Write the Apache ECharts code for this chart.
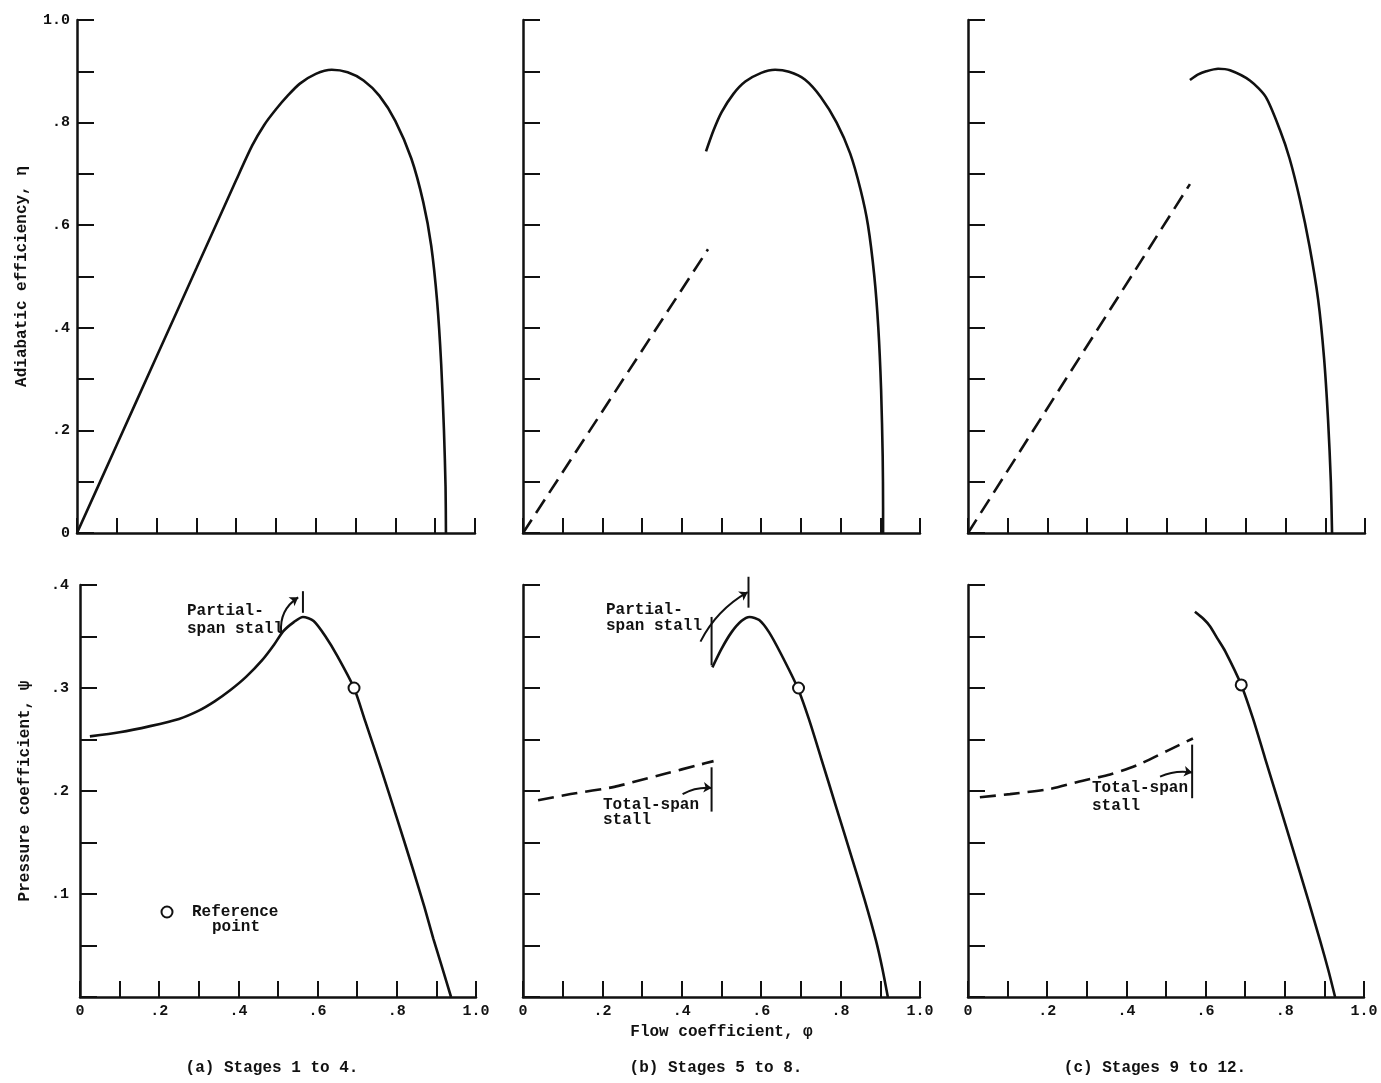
<!DOCTYPE html>
<html>
<head>
<meta charset="utf-8">
<script src="https://cdn.jsdelivr.net/npm/echarts@6/dist/echarts.min.js"></script>
<style>
  html, body { margin: 0; padding: 0; background: #ffffff; }
  #chart { width: 1381px; height: 1083px; }
</style>
</head>
<body>
<div id="chart"></div>
<script>
// ---- Adiabatic efficiency (eta) against flow coefficient (phi) ----
const etaStages1to4 = [[0,0],[0.1,0.172],[0.2,0.344],[0.3,0.516],[0.4,0.688],[0.44,0.755],[0.47,0.795],
  [0.5,0.826],[0.53,0.853],[0.56,0.876],[0.6,0.895],[0.64,0.903],[0.68,0.898],[0.72,0.882],[0.76,0.852],
  [0.8,0.803],[0.84,0.73],[0.87,0.645],[0.89,0.56],[0.905,0.45],[0.915,0.33],[0.922,0.2],[0.926,0.09],[0.927,0]];
const etaStages5to8Low = [[0,0],[0.466,0.553]];
const etaStages5to8 = [[0.461,0.744],[0.48,0.785],[0.5,0.82],[0.53,0.856],[0.56,0.88],[0.6,0.897],[0.635,0.903],
  [0.67,0.899],[0.71,0.884],[0.75,0.85],[0.79,0.8],[0.824,0.74],[0.85,0.67],[0.869,0.6],[0.885,0.5],
  [0.895,0.4],[0.902,0.28],[0.906,0.15],[0.907,0.05],[0.907,0]];
const etaStages9to12Low = [[0,0],[0.559,0.68]];
const etaStages9to12 = [[0.559,0.883],[0.58,0.894],[0.6,0.9],[0.63,0.905],[0.66,0.902],[0.71,0.882],[0.75,0.85],
  [0.786,0.785],[0.81,0.73],[0.836,0.65],[0.86,0.56],[0.882,0.455],[0.897,0.34],[0.907,0.22],[0.914,0.1],[0.917,0]];

// ---- Pressure coefficient (psi) against flow coefficient (phi) ----
const psiStages1to4 = [[0.025,0.253],[0.1,0.257],[0.177,0.263],[0.25,0.27],[0.3,0.278],[0.34,0.287],[0.38,0.298],
  [0.42,0.311],[0.46,0.327],[0.49,0.342],[0.513,0.355],[0.54,0.364],[0.563,0.369],[0.59,0.365],[0.62,0.35],
  [0.65,0.331],[0.692,0.3],[0.72,0.268],[0.76,0.222],[0.8,0.174],[0.84,0.125],[0.87,0.087],[0.892,0.057],
  [0.915,0.028],[0.937,0]];
const psiStages5to8Low = [[0.038,0.191],[0.12,0.197],[0.23,0.204],[0.29,0.21],[0.36,0.217],[0.44,0.225],[0.48,0.229]];
const psiStages5to8 = [[0.477,0.32],[0.5,0.338],[0.525,0.354],[0.55,0.365],[0.571,0.369],[0.595,0.366],[0.62,0.354],
  [0.65,0.333],[0.692,0.3],[0.72,0.27],[0.75,0.233],[0.79,0.183],[0.826,0.138],[0.86,0.095],[0.889,0.055],
  [0.905,0.028],[0.919,0]];
const psiStages9to12Low = [[0.03,0.194],[0.106,0.197],[0.207,0.202],[0.29,0.21],[0.359,0.216],[0.427,0.225],
  [0.503,0.239],[0.568,0.251]];
const psiStages9to12 = [[0.573,0.374],[0.595,0.367],[0.611,0.36],[0.63,0.348],[0.649,0.336],[0.69,0.303],
  [0.72,0.27],[0.75,0.232],[0.79,0.182],[0.82,0.144],[0.86,0.093],[0.889,0.055],[0.91,0.026],[0.927,0]];

// reference point (phi, psi) for each stage group
const referencePoints = [[0.692,0.3],[0.694,0.3],[0.69,0.303]];

// stall markers (phi, psi)
const partialStallTickA = [[0.563,0.373],[0.563,0.394]];
const partialStallArrowA = [[0.508,0.354],[0.551,0.388]];
const partialStallTickB1 = [[0.475,0.322],[0.475,0.369]];
const partialStallTickB2 = [[0.568,0.378],[0.568,0.408]];
const partialStallArrowB = [[0.447,0.345],[0.566,0.393]];
const totalStallTickB = [[0.475,0.18],[0.475,0.223]];
const totalStallArrowB = [[0.402,0.197],[0.475,0.203]];
const totalStallTickC = [[0.566,0.193],[0.566,0.245]];
const totalStallArrowC = [[0.485,0.214],[0.566,0.218]];

// tick labels
const phiLabelValues = [0, 0.2, 0.4, 0.6, 0.8, 1.0];
const phiLabelTexts = ['0', '.2', '.4', '.6', '.8', '1.0'];
const etaLabelValues = [0, 0.2, 0.4, 0.6, 0.8, 1.0];
const etaLabelTexts = ['0', '.2', '.4', '.6', '.8', '1.0'];
const psiLabelValues = [0.1, 0.2, 0.3, 0.4];
const psiLabelTexts = ['.1', '.2', '.3', '.4'];

const FONT = '"Liberation Mono", "DejaVu Sans Mono", monospace';
const INK = '#111111';

function labelFormatter(values, texts) {
  return function (v) {
    const i = values.findIndex(function (t) { return Math.abs(t - v) < 1e-6; });
    return i < 0 ? '' : texts[i];
  };
}

const grids = [
  { left: 77,  top: 20,  width: 398, height: 513 },
  { left: 523, top: 20,  width: 397, height: 513 },
  { left: 968, top: 20,  width: 397, height: 513 },
  { left: 80,  top: 585, width: 396, height: 412 },
  { left: 523, top: 585, width: 397, height: 412 },
  { left: 968, top: 585, width: 396, height: 412 }
];

const labelStyle = { fontFamily: FONT, fontWeight: 'bold', fontSize: 15, color: INK };
const nameStyle = { fontFamily: FONT, fontWeight: 'bold', fontSize: 16, color: INK };

const xAxes = grids.map(function (g, i) {
  const lower = i >= 3;
  const ax = {
    type: 'value', gridIndex: i, min: 0, max: 1, interval: 0.1,
    axisLine: { show: true, onZero: false, lineStyle: { color: INK, width: 2.5 } },
    axisTick: { show: true, inside: true, length: lower ? 16 : 15, lineStyle: { color: INK, width: 2 } },
    splitLine: { show: false },
    axisLabel: Object.assign({ show: lower, margin: 7, formatter: labelFormatter(phiLabelValues, phiLabelTexts) }, labelStyle)
  };
  if (i === 4) {
    ax.name = 'Flow coefficient, \u03c6';
    ax.nameLocation = 'middle';
    ax.nameGap = 27;
    ax.nameTextStyle = nameStyle;
  }
  return ax;
});

const yAxes = grids.map(function (g, i) {
  const lower = i >= 3;
  const ax = {
    type: 'value', gridIndex: i, min: 0, max: lower ? 0.4 : 1, interval: lower ? 0.05 : 0.1,
    axisLine: { show: true, onZero: false, lineStyle: { color: INK, width: 2.5 } },
    axisTick: { show: true, inside: true, length: 17, lineStyle: { color: INK, width: 2 } },
    splitLine: { show: false },
    axisLabel: Object.assign({
      show: i === 0 || i === 3,
      margin: lower ? 11 : 7,
      formatter: lower ? labelFormatter(psiLabelValues, psiLabelTexts) : labelFormatter(etaLabelValues, etaLabelTexts)
    }, labelStyle)
  };
  if (i === 0) {
    ax.name = 'Adiabatic efficiency, \u03b7';
    ax.nameLocation = 'middle';
    ax.nameGap = 47;
    ax.nameTextStyle = nameStyle;
  }
  if (i === 3) {
    ax.name = 'Pressure coefficient, \u03c8';
    ax.nameLocation = 'middle';
    ax.nameGap = 47;
    ax.nameTextStyle = nameStyle;
  }
  return ax;
});

function curve(data, gi, dashed) {
  return {
    type: 'line', xAxisIndex: gi, yAxisIndex: gi, data: data,
    showSymbol: false, smooth: 0.25, clip: false, silent: true, animation: false,
    lineStyle: { color: INK, width: 2.6, type: dashed ? [16, 8] : 'solid' }
  };
}
function tick(data, gi) {
  return {
    type: 'line', xAxisIndex: gi, yAxisIndex: gi, data: data,
    showSymbol: false, clip: false, silent: true, animation: false,
    lineStyle: { color: INK, width: 2 }
  };
}
function arrow(coords, gi, bend) {
  return {
    type: 'lines', coordinateSystem: 'cartesian2d', xAxisIndex: gi, yAxisIndex: gi,
    symbol: ['none', 'arrow'], symbolSize: 8, clip: false, silent: true, animation: false,
    lineStyle: { color: INK, width: 2, opacity: 1, curveness: bend },
    data: [{ coords: coords }]
  };
}
function refPoint(pt, gi) {
  return {
    type: 'scatter', xAxisIndex: gi, yAxisIndex: gi, data: [pt], z: 10,
    symbol: 'circle', symbolSize: 11, silent: true, animation: false,
    itemStyle: { color: '#ffffff', borderColor: INK, borderWidth: 2, opacity: 1 }
  };
}

const series = [
  curve(etaStages1to4, 0, false),
  curve(etaStages5to8Low, 1, true),
  curve(etaStages5to8, 1, false),
  curve(etaStages9to12Low, 2, true),
  curve(etaStages9to12, 2, false),
  curve(psiStages1to4, 3, false),
  curve(psiStages5to8Low, 4, true),
  curve(psiStages5to8, 4, false),
  curve(psiStages9to12Low, 5, true),
  curve(psiStages9to12, 5, false),
  refPoint(referencePoints[0], 3),
  refPoint(referencePoints[1], 4),
  refPoint(referencePoints[2], 5),
  tick(partialStallTickA, 3),
  arrow(partialStallArrowA, 3, 0.3),
  tick(partialStallTickB1, 4),
  tick(partialStallTickB2, 4),
  arrow(partialStallArrowB, 4, 0.15),
  tick(totalStallTickB, 4),
  arrow(totalStallArrowB, 4, 0.15),
  tick(totalStallTickC, 5),
  arrow(totalStallArrowC, 5, 0.15)
];

function note(text, x, y, align) {
  return {
    type: 'text', x: x, y: y, silent: true,
    style: { text: text, font: 'bold 16px ' + FONT, fill: INK, align: align || 'left', verticalAlign: 'middle' }
  };
}

const graphic = [
  note('Partial-', 187, 611),
  note('span stall', 187, 629),
  note('Partial-', 606, 610),
  note('span stall', 606, 626),
  note('Total-span', 603, 805),
  note('stall', 603, 820),
  note('Total-span', 1092, 788),
  note('stall', 1092, 806),
  { type: 'circle', shape: { cx: 167, cy: 912, r: 5.5 }, silent: true,
    style: { fill: '#ffffff', stroke: INK, lineWidth: 2 } },
  note('Reference', 192, 912),
  note('point', 212, 927),
  note('(a) Stages 1 to 4.', 272, 1068, 'center'),
  note('(b) Stages 5 to 8.', 716, 1068, 'center'),
  note('(c) Stages 9 to 12.', 1155, 1068, 'center')
];

const chart = echarts.init(document.getElementById('chart'), null, { renderer: 'canvas' });
chart.setOption({
  backgroundColor: '#ffffff',
  animation: false,
  grid: grids,
  xAxis: xAxes,
  yAxis: yAxes,
  series: series,
  graphic: graphic
});
</script>
</body>
</html>
